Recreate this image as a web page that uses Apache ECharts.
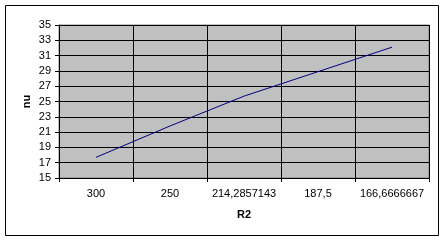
<!DOCTYPE html>
<html><head><meta charset="utf-8">
<script src="https://cdn.jsdelivr.net/npm/echarts@6/dist/echarts.min.js"></script>
<style>html,body{margin:0;padding:0;background:#fff}#c{width:445px;height:242px}</style>
</head><body><div id="c"></div>
<script>
var categories = ['300', '250', '214,2857143', '187,5', '166,6666667'];
var nuValues = [17.7, 21.8, 25.7, 28.9, 32.1];
var yTicks = {min: 15, max: 35, step: 2};

var chart = echarts.init(document.getElementById('c'), null, {renderer: 'canvas'});
var font = 'Arial, "Liberation Sans", sans-serif';
chart.setOption({
  animation: false,
  graphic: [{type: 'rect', shape: {x: 5.5, y: 5.5, width: 433, height: 230}, style: {fill: 'none', stroke: '#000', lineWidth: 1}, z: -10}],
  grid: {left: 59, top: 25, width: 370, height: 153, show: true, backgroundColor: '#c0c0c0', borderColor: '#808080', borderWidth: 1},
  xAxis: {
    type: 'category', data: categories, boundaryGap: true,
    name: 'R2', nameLocation: 'middle', nameGap: 31,
    nameTextStyle: {fontFamily: font, fontSize: 11, fontWeight: 'bold', color: '#000'},
    axisLine: {lineStyle: {color: '#000', width: 1}},
    axisTick: {show: true, length: 4, alignWithLabel: false, lineStyle: {color: '#000'}},
    axisLabel: {margin: 10, fontFamily: font, fontSize: 11, color: '#000', interval: 0},
    splitLine: {show: true, lineStyle: {color: '#000', width: 1}}
  },
  yAxis: {
    type: 'value', min: yTicks.min, max: yTicks.max, interval: yTicks.step,
    name: 'nu', nameLocation: 'middle', nameGap: 32, nameRotate: 90, nameMoveOverlap: false,
    nameTextStyle: {fontFamily: font, fontSize: 11, fontWeight: 'bold', color: '#000', verticalAlign: 'middle'},
    axisLine: {show: true, lineStyle: {color: '#000', width: 1}},
    axisTick: {show: true, length: 4, lineStyle: {color: '#000'}},
    axisLabel: {margin: 8, fontFamily: font, fontSize: 11, color: '#000'},
    splitLine: {show: true, lineStyle: {color: '#000', width: 1}}
  },
  series: [{type: 'line', data: nuValues, symbol: 'none', lineStyle: {color: '#000080', width: 1}}]
});
</script></body></html>
